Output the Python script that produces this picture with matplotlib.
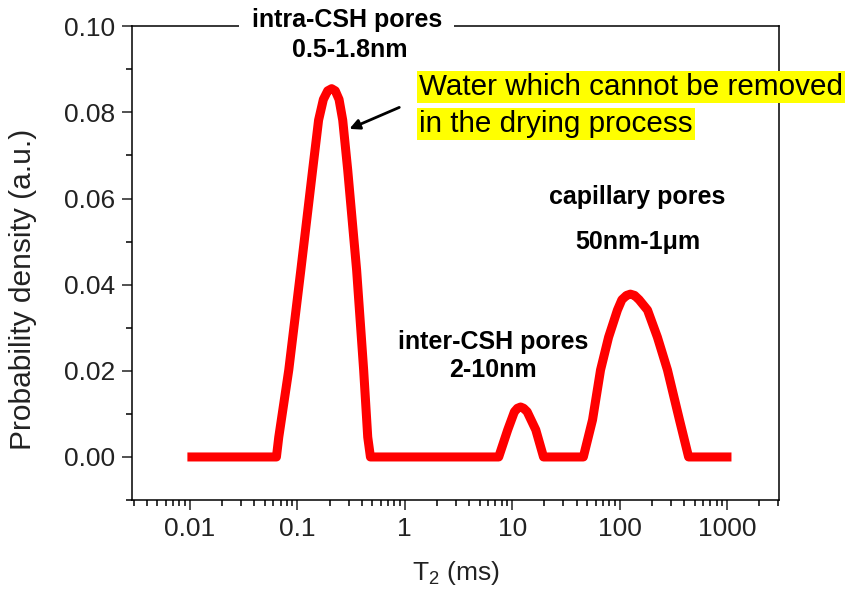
import matplotlib
matplotlib.use("Agg")
import matplotlib.pyplot as plt
from matplotlib.ticker import LogLocator, MultipleLocator, FixedLocator, FixedFormatter

plt.rcParams["font.family"] = ["Liberation Sans", "DejaVu Sans"]
plt.rcParams["mathtext.fontset"] = "custom"
plt.rcParams["mathtext.rm"] = "Liberation Sans"

# T2 distribution
t2 = [0.0095, 0.064, 0.0673, 0.0834, 0.108, 0.139, 0.158, 0.175, 0.192,
      0.209, 0.226, 0.245, 0.265, 0.295, 0.357, 0.415, 0.453, 0.48,
      7.5, 9.1, 10.5, 11.2, 12.0, 12.8, 13.8, 16.6, 19.6,
      46, 56, 66.5, 79, 95.5, 105, 116, 126, 138, 152, 182, 225, 279, 361,
      439, 1100]
density = [0, 0, 0.0046, 0.0202, 0.0434, 0.0666, 0.0782, 0.0830, 0.0850,
           0.0855, 0.0850, 0.0830, 0.0782, 0.0666, 0.0434, 0.0202, 0.0046, 0,
           0, 0.0063, 0.0105, 0.0113, 0.0116, 0.0113, 0.0105, 0.0063, 0,
           0, 0.0086, 0.0202, 0.0278, 0.0341, 0.0365, 0.0375, 0.0378, 0.0375,
           0.0365, 0.0341, 0.0278, 0.0202, 0.0086, 0, 0]

x_ticks = [0.01, 0.1, 1, 10, 100, 1000]
x_labels = ["0.01", "0.1", "1", "10", "100", "1000"]

fig = plt.figure(figsize=(8.48, 5.96), dpi=100)
ax = fig.add_axes([0.1557, 0.161, 0.763, 0.795])

ax.plot(t2, density, color="#ff0000", lw=6.5, solid_joinstyle="round",
        solid_capstyle="butt", zorder=2)

ax.set_xscale("log")
ax.set_xlim(0.0029, 3050)
ax.set_ylim(-0.01, 0.10)
ax.xaxis.set_major_locator(FixedLocator(x_ticks))
ax.xaxis.set_major_formatter(FixedFormatter(x_labels))
ax.xaxis.set_minor_locator(LogLocator(base=10, subs=range(2, 10), numticks=20))
ax.yaxis.set_major_locator(MultipleLocator(0.02))
ax.yaxis.set_minor_locator(MultipleLocator(0.01))
ax.yaxis.set_major_formatter(plt.FormatStrFormatter("%.2f"))

for s in ax.spines.values():
    s.set_linewidth(1.1)
ax.tick_params(which="major", length=7, width=1.1, labelsize=19, pad=5,
               colors="#222222")
ax.tick_params(which="minor", length=4, width=1.1)

ax.set_xlabel("T$_\\mathregular{2}$ (ms)", fontsize=19, labelpad=13,
              color="#222222")
ax.set_ylabel("Probability density (a.u.)", fontsize=21.5, color="#222222")
ax.yaxis.set_label_coords(-0.147, 0.445)

# annotations
ax.text(0.332, 1.0127, "intra-CSH pores", transform=ax.transAxes,
        ha="center", va="center", fontsize=18, fontweight="bold",
        bbox=dict(facecolor="white", edgecolor="none", pad=9), zorder=5)
ax.text(0.336, 0.949, "0.5-1.8nm", transform=ax.transAxes, ha="center",
        va="center", fontsize=18, fontweight="bold", zorder=6)

ax.text(0.4436, 0.871, "Water which cannot be removed", transform=ax.transAxes,
        ha="left", va="center", fontsize=21.3,
        bbox=dict(facecolor="#ffff00", edgecolor="none", pad=1.5))
ax.text(0.4436, 0.793, "in the drying process", transform=ax.transAxes,
        ha="left", va="center", fontsize=21.3,
        bbox=dict(facecolor="#ffff00", edgecolor="none", pad=1.5))
ax.annotate("", xy=(0.332, 0.781), xytext=(0.417, 0.831),
            xycoords="axes fraction", textcoords="axes fraction",
            arrowprops=dict(arrowstyle="-|>,head_length=0.6,head_width=0.3",
                            color="black", lw=2))

ax.text(0.7805, 0.639, "capillary pores", transform=ax.transAxes,
        ha="center", va="center", fontsize=18, fontweight="bold")
ax.text(0.782, 0.544, "50nm-1\u03bcm", transform=ax.transAxes,
        ha="center", va="center", fontsize=18, fontweight="bold")

ax.text(0.558, 0.333, "inter-CSH pores", transform=ax.transAxes,
        ha="center", va="center", fontsize=18, fontweight="bold")
ax.text(0.558, 0.274, "2-10nm", transform=ax.transAxes,
        ha="center", va="center", fontsize=18, fontweight="bold")

fig.savefig("out.png", dpi=100)
